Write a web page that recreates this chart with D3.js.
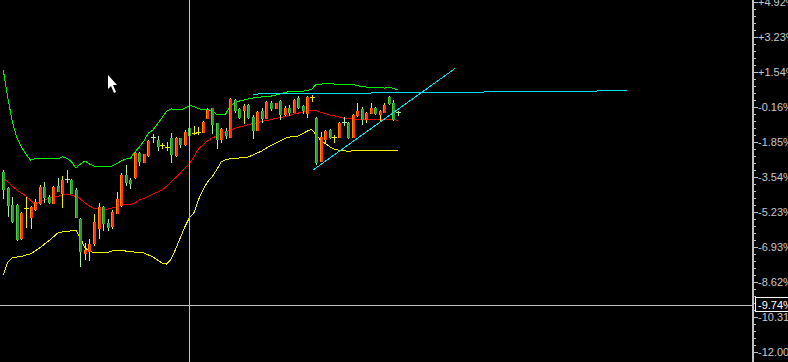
<!DOCTYPE html>
<html>
<head>
<meta charset="utf-8">
<script src="https://cdn.jsdelivr.net/npm/d3@7"></script>
<style>
  body { margin: 0; background: #000; overflow: hidden; }
  svg { display: block; }
</style>
</head>
<body>
<div id="chart-area"></div>
<script>

// Candles (percent), one entry per bar
var openVals = [-3.30,-4.07,-4.90,-4.90,-6.49,-5.04,-5.48,-5.09,-4.80,-4.03,
    -4.51,-4.80,-3.98,-4.32,-3.62,-3.69,-4.17,-5.57,-7.21,-7.12,
    -6.73,-6.01,-4.99,-5.77,-5.91,-5.28,-4.90,-3.45,-3.69,-3.54,
    -2.38,-2.82,-2.48,-1.61,-1.75,-1.99,-2.09,-1.66,-2.48,-1.66,
    -1.95,-1.17,-1.41,-1.37,-1.37,-0.69,-0.21,-0.93,-1.70,-1.32,
    -1.61,0.18,-0.25,-0.30,-0.06,-0.64,-1.27,-0.35,-0.69,0.03,
    -0.21,0.13,-0.50,-0.21,-0.40,0.28,-0.11,-0.45,0.33,-0.69,
    -2.77,-1.70,-1.27,-1.61,-1.61,-0.88,-0.93,-1.61,-0.54,-0.25,
    -0.74,-0.45,-0.21,-0.50,-0.40,0.33,0.03,-0.38];
var highVals = [-3.20,-4.03,-4.51,-4.85,-5.23,-4.51,-4.94,-4.60,-3.93,-3.78,
    -4.41,-3.98,-3.59,-3.49,-3.20,-3.64,-4.07,-5.52,-6.73,-6.54,
    -5.33,-4.80,-4.94,-5.57,-5.14,-4.27,-3.35,-2.96,-3.59,-2.33,
    -2.33,-2.43,-1.75,-1.47,-1.56,-1.90,-1.85,-1.41,-1.61,-1.66,
    -1.27,-1.08,-1.08,-1.12,-0.83,-0.21,-0.21,-0.93,-1.17,-1.17,
    0.28,0.23,-0.21,-0.01,-0.01,-0.54,-0.35,-0.21,0.13,0.13,
    0.03,0.18,-0.11,-0.06,0.23,0.37,-0.06,0.37,0.42,-0.64,
    -1.37,-1.27,-1.22,-1.51,-0.88,-0.64,-0.88,-0.50,0.03,-0.16,
    -0.40,0.03,-0.16,-0.30,0.03,0.37,0.18,-0.35];
var lowVals = [-4.56,-5.43,-5.72,-6.59,-6.54,-5.96,-6.01,-5.14,-4.85,-4.75,
    -4.80,-4.80,-4.22,-4.99,-3.78,-4.32,-5.48,-7.84,-7.51,-7.55,
    -6.83,-6.49,-6.10,-6.10,-6.01,-5.28,-4.94,-3.93,-4.07,-3.59,
    -2.96,-2.82,-2.53,-1.85,-2.24,-2.14,-2.24,-2.82,-2.53,-2.09,
    -1.99,-1.61,-1.47,-1.47,-1.37,-0.69,-1.41,-2.14,-1.85,-1.66,
    -1.61,-0.40,-0.69,-0.93,-0.69,-1.66,-1.27,-0.88,-0.69,-0.30,
    -0.21,-0.74,-0.54,-0.54,-0.40,-0.21,-0.45,-0.64,0.13,-2.91,
    -2.77,-1.90,-1.66,-1.85,-1.61,-1.03,-1.66,-1.61,-0.59,-0.98,
    -0.88,-0.45,-0.50,-0.79,-0.40,-0.01,-0.79,-0.54];
var closeVals = [-4.12,-4.90,-5.67,-6.54,-5.28,-5.04,-4.99,-4.75,-4.03,-4.51,
    -4.75,-4.03,-4.22,-3.69,-3.66,-4.32,-5.48,-7.12,-7.07,-6.78,
    -5.72,-4.99,-5.77,-5.96,-5.23,-4.60,-3.45,-3.78,-3.83,-2.38,
    -2.77,-2.43,-1.80,-1.66,-2.04,-1.99,-2.09,-2.43,-1.66,-1.95,
    -1.37,-1.51,-1.41,-1.37,-0.88,-0.30,-0.98,-1.70,-1.22,-1.51,
    0.23,-0.30,-0.64,-0.11,-0.64,-1.27,-0.40,-0.69,0.08,-0.21,
    0.03,-0.50,-0.21,-0.40,0.18,-0.16,-0.30,0.33,0.33,-2.82,
    -1.61,-1.32,-1.61,-1.61,-0.93,-0.93,-1.61,-0.54,-0.35,-0.74,
    -0.45,-0.21,-0.45,-0.35,-0.06,0.03,-0.74,-0.42];

// Bollinger bands
var upperBand = [1.63,0.28,-0.88,-1.66,-2.09,-2.43,-2.72,-2.65,-2.64,-2.64,
    -2.64,-2.65,-2.67,-2.56,-2.64,-2.79,-3.11,-2.91,-2.77,-2.91,
    -3.01,-3.03,-3.04,-3.03,-3.01,-2.89,-2.77,-2.67,-2.64,-2.33,
    -2.09,-1.80,-1.41,-1.27,-0.96,-0.67,-0.35,-0.25,-0.28,-0.30,
    -0.22,-0.09,-0.12,-0.23,-0.30,-0.28,-0.35,-0.50,-0.54,-0.50,
    -0.11,0.03,0.13,0.18,0.23,0.28,0.30,0.33,0.35,0.37,
    0.42,0.47,0.54,0.59,0.59,0.59,0.61,0.64,0.71,0.95,
    0.95,0.98,0.98,0.95,0.95,0.95,0.95,0.94,0.88,0.83,
    0.81,0.81,0.79,0.79,0.76,0.79,0.75,0.66];
var middleBand = [-3.59,-3.78,-3.98,-4.17,-4.32,-4.46,-4.65,-4.90,-4.75,-4.65,
    -4.58,-4.53,-4.48,-4.41,-4.39,-4.41,-4.48,-4.60,-4.80,-4.94,
    -5.06,-5.09,-5.10,-5.09,-5.04,-4.99,-4.92,-4.85,-4.87,-4.80,
    -4.65,-4.58,-4.48,-4.36,-4.27,-4.17,-3.98,-3.78,-3.57,-3.35,
    -3.13,-2.89,-2.58,-2.19,-1.99,-1.80,-1.66,-1.56,-1.44,-1.37,
    -1.27,-1.20,-1.12,-1.08,-1.00,-0.96,-0.91,-0.86,-0.81,-0.76,
    -0.71,-0.67,-0.62,-0.57,-0.50,-0.45,-0.40,-0.35,-0.32,-0.33,
    -0.42,-0.47,-0.54,-0.59,-0.64,-0.69,-0.71,-0.74,-0.75,-0.75,
    -0.75,-0.75,-0.75,-0.75,-0.75,-0.75,-0.75,-0.82];
var lowerBand = [-8.28,-7.65,-7.43,-7.41,-7.38,-7.31,-7.26,-7.12,-6.97,-6.80,
    -6.63,-6.44,-6.25,-6.20,-6.18,-6.14,-6.10,-6.49,-6.97,-7.12,
    -7.20,-7.20,-7.20,-7.18,-7.12,-7.07,-7.09,-7.12,-7.15,-7.17,
    -7.19,-7.21,-7.31,-7.41,-7.55,-7.70,-7.75,-7.51,-7.02,-6.49,
    -5.96,-5.52,-5.28,-4.65,-4.17,-3.78,-3.54,-3.20,-2.82,-2.70,
    -2.66,-2.65,-2.62,-2.60,-2.57,-2.48,-2.38,-2.28,-2.14,-2.02,
    -1.90,-1.80,-1.68,-1.61,-1.58,-1.56,-1.44,-1.32,-1.24,-1.51,
    -1.78,-1.92,-2.08,-2.21,-2.24,-2.26,-2.31,-2.27,-2.27,-2.27,
    -2.27,-2.27,-2.27,-2.27,-2.27,-2.27,-2.27,-2.24];

// Right axis
var tickValues = [4.92, 3.23, 1.54, -0.16, -1.85, -3.54, -5.23, -6.93, -8.62, -10.31, -12.00];
var tickLabels = ["+4.92%", "+3.23%", "+1.54%", "-0.16%", "-1.85%", "-3.54%",
    "-5.23%", "-6.93%", "-8.62%", "-10.31%", "-12.00%"];

// Drawn trend lines: [bar index, percent]
var trendStart = [[55, 0.47], [68.3, -3.20]];
var trendEnd = [[137.5, 0.63], [99.6, 1.71]];

// Crosshair
var crossIndex = 41, crossValue = -9.74, crossLabel = "-9.74%";

var width = 788, height = 362, axisX = 752;

var svg = d3.select("#chart-area").append("svg")
    .attr("width", width)
    .attr("height", height)
    .style("font-family", "'Liberation Sans', Arial, sans-serif");

svg.append("rect").attr("width", width).attr("height", height).attr("fill", "#000");

// Scales
var x = d3.scaleLinear().domain([0, openVals.length - 1]).range([3.3, 398]);
var y = d3.scaleLinear().domain([-12.00, 4.92]).range([352, 2]);

var g = svg.append("g").attr("shape-rendering", "crispEdges");

// Bands
var line = d3.line()
    .x(function(d, i){ return x(i); })
    .y(function(d){ return y(d); });

[[upperBand, "#00ee00"], [middleBand, "#ee0000"], [lowerBand, "#f0f000"]].forEach(function(b){
    g.append("path")
        .attr("d", line(b[0]))
        .attr("fill", "none")
        .attr("stroke", b[1])
        .attr("stroke-width", 1);
});

// Candles
var candles = openVals.map(function(o, i){
    return { i: i, open: o, high: highVals[i], low: lowVals[i], close: closeVals[i] };
});

var cg = g.selectAll(".candle").data(candles).enter().append("g").attr("class", "candle");

cg.each(function(d){
    var sel = d3.select(this);
    var cx = Math.round(x(d.i));
    var up = d.close >= d.open;
    var wickColor = up ? "#f0f000" : "#a8f0a8";
    var yh = Math.round(y(d.high)), yl = Math.round(y(d.low));
    var yTop = Math.round(y(Math.max(d.open, d.close)));
    var yBot = Math.round(y(Math.min(d.open, d.close)));

    sel.append("rect")
        .attr("x", cx).attr("y", yh)
        .attr("width", 1).attr("height", yl - yh + 1)
        .attr("fill", wickColor);

    if (Math.abs(y(d.open) - y(d.close)) < 1.5) {
        sel.append("rect")
            .attr("x", cx - 2).attr("y", yTop)
            .attr("width", 5).attr("height", 1)
            .attr("fill", wickColor);
    } else {
        sel.append("rect")
            .attr("x", cx - 1).attr("y", yTop)
            .attr("width", 3).attr("height", yBot - yTop + 1)
            .attr("fill", up ? "#ff3300" : "#2a9a2a");
        sel.append("rect")
            .attr("x", cx - 1).attr("y", yTop)
            .attr("width", 1).attr("height", yBot - yTop + 1)
            .attr("fill", up ? "#ff8c00" : "#4cd04c");
    }
});

// Trend lines
trendStart.forEach(function(s, k){
    var e = trendEnd[k];
    g.append("line")
        .attr("x1", x(s[0])).attr("y1", y(s[1]))
        .attr("x2", x(e[0])).attr("y2", y(e[1]))
        .attr("stroke", "#00e0f0")
        .attr("stroke-width", 1);
});

// Crosshair
var cx0 = Math.round(x(crossIndex)) + 0.5;
var cy0 = Math.round(y(crossValue)) + 0.5;
g.append("line")
    .attr("x1", cx0).attr("x2", cx0)
    .attr("y1", 0).attr("y2", height)
    .attr("stroke", "#c0c0c0");
g.append("line")
    .attr("x1", 0).attr("x2", axisX)
    .attr("y1", cy0).attr("y2", cy0)
    .attr("stroke", "#c0c0c0");

// Axis
g.append("rect")
    .attr("x", axisX).attr("y", 0)
    .attr("width", 2).attr("height", height)
    .attr("fill", "#c0c0c0");

var minorTicks = [];
for (var k = 0; k < tickValues.length - 1; k++) {
    var step = (tickValues[k + 1] - tickValues[k]) / 5;
    for (var m = 1; m < 5; m++) minorTicks.push(tickValues[k] + step * m);
}

g.selectAll(".minor").data(minorTicks).enter().append("rect")
    .attr("class", "minor")
    .attr("x", axisX + 2)
    .attr("y", function(d){ return Math.round(y(d)); })
    .attr("width", 2).attr("height", 1)
    .attr("fill", "#c0c0c0");

g.selectAll(".major").data(tickValues).enter().append("rect")
    .attr("class", "major")
    .attr("x", axisX + 2)
    .attr("y", function(d){ return Math.round(y(d)); })
    .attr("width", 4).attr("height", 1)
    .attr("fill", "#c0c0c0");

svg.selectAll(".tick-label").data(tickValues).enter().append("text")
    .attr("class", "tick-label")
    .attr("x", axisX + 6)
    .attr("y", function(d){ return y(d) + 4; })
    .attr("font-size", "11px")
    .attr("fill", "#c8c8c8")
    .text(function(d, i){ return tickLabels[i]; });

// Crosshair value box
svg.append("rect")
    .attr("x", axisX + 3.5).attr("y", Math.round(y(crossValue)) - 7.5)
    .attr("width", 40).attr("height", 14)
    .attr("fill", "#000")
    .attr("stroke", "#ffffff")
    .attr("shape-rendering", "crispEdges");
svg.append("text")
    .attr("x", axisX + 6)
    .attr("y", y(crossValue) + 4)
    .attr("font-size", "11px")
    .attr("fill", "#ffffff")
    .text(crossLabel);

// Mouse pointer
svg.append("path")
    .attr("transform", "translate(108,75)")
    .attr("d", "M0,0 L0,14 L3,11 L6,18 L8,17 L5,10 L9,10 Z")
    .attr("fill", "#ffffff");

</script>
</body>
</html>
